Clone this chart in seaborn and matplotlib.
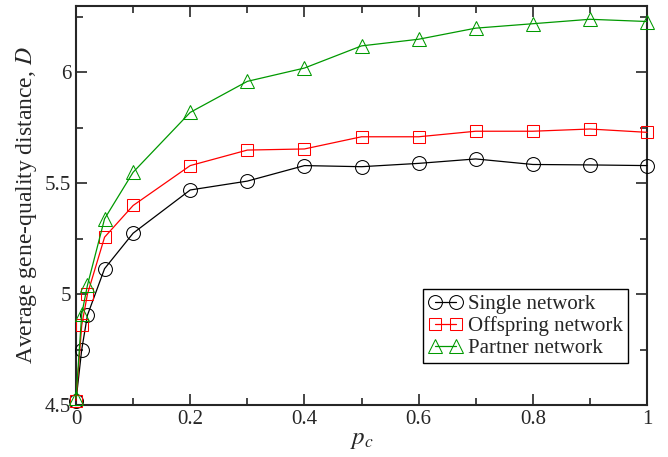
import matplotlib
matplotlib.use("Agg")
import matplotlib.pyplot as plt
from matplotlib.ticker import MultipleLocator, FuncFormatter
import seaborn as sns

pc = [0, 0.01, 0.02, 0.05, 0.1, 0.2, 0.3, 0.4, 0.5, 0.6, 0.7, 0.8, 0.9, 1.0]
single = [4.52, 4.75, 4.905, 5.115, 5.275, 5.47, 5.51, 5.58, 5.575, 5.59, 5.61, 5.585, 5.583, 5.58]
offspring = [4.52, 4.86, 5.0, 5.257, 5.40, 5.58, 5.65, 5.655, 5.71, 5.71, 5.735, 5.735, 5.745, 5.73]
partner = [4.53, 4.91, 5.04, 5.34, 5.55, 5.82, 5.96, 6.02, 6.12, 6.15, 6.20, 6.22, 6.24, 6.23]

sns.set_style("ticks")
plt.rcParams['font.family'] = ['Liberation Serif', 'DejaVu Serif']
plt.rcParams['mathtext.fontset'] = 'stix'

fig = plt.figure(figsize=(6.68, 4.57), dpi=100)
ax = fig.add_axes([0.1138, 0.1138, 0.9686 - 0.1138, 0.9869 - 0.1138])

sns.lineplot(x=pc, y=single, ax=ax, color="black", marker="o", markersize=10,
             markerfacecolor="none", markeredgecolor="black", linewidth=0.9,
             label="Single network", clip_on=False, zorder=3)
sns.lineplot(x=pc, y=offspring, ax=ax, color="red", marker="s", markersize=9,
             markerfacecolor="none", markeredgecolor="red", linewidth=0.9,
             label="Offspring network", clip_on=False, zorder=3)
sns.lineplot(x=pc, y=partner, ax=ax, color="#009900", marker="^", markersize=10,
             markerfacecolor="none", markeredgecolor="#009900", linewidth=0.9,
             label="Partner network", clip_on=False, zorder=3)

ax.set_xlim(0, 1)
ax.set_ylim(4.5, 6.3)
ax.xaxis.set_major_locator(MultipleLocator(0.2))
ax.xaxis.set_minor_locator(MultipleLocator(0.1))
ax.yaxis.set_major_locator(MultipleLocator(0.5))
ax.yaxis.set_minor_locator(MultipleLocator(0.25))
fmt = FuncFormatter(lambda v, p: ("%g" % round(v, 3)))
ax.xaxis.set_major_formatter(fmt)
ax.yaxis.set_major_formatter(fmt)
ax.tick_params(which="both", direction="in", top=True, right=True, labelsize=15, width=1.2)
ax.tick_params(which="major", length=8)
ax.tick_params(which="minor", length=5)
for s in ax.spines.values():
    s.set_linewidth(1.5)

ax.set_xlabel("$p_c$", fontsize=18, labelpad=0)
ax.set_ylabel("Average gene-quality distance, $D$", fontsize=17)

leg = ax.legend(loc="lower right", bbox_to_anchor=(0.967, 0.105), numpoints=2, fontsize=15,
                fancybox=False, edgecolor="black", framealpha=1, handlelength=1.6,
                handletextpad=0.3, borderpad=0.25, labelspacing=0.1, borderaxespad=0)
leg.get_frame().set_linewidth(1.0)

fig.savefig("out.png", dpi=100)
